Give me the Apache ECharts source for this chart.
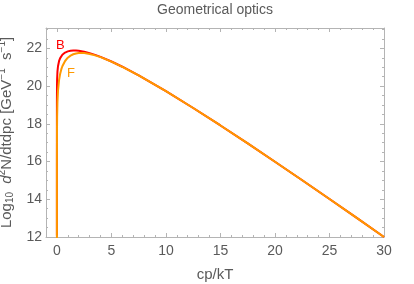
<!DOCTYPE html>
<html><head><meta charset="utf-8">
<script src="https://cdn.jsdelivr.net/npm/echarts@6/dist/echarts.min.js"></script>
<style>html,body{margin:0;padding:0;background:#fff}#c{width:414px;height:284px}</style>
</head><body><div id="c"></div>
<script>
const cpkT = [1e-10, 1e-5, 1e-4, 1e-3, 0.01, 0.02, 0.05, 0.1, 0.2, 0.3, 0.4, 0.5, 0.75, 1, 1.25, 1.5, 1.75, 2, 2.5, 3, 3.5, 4, 5, 6, 7.5, 10, 12.5, 15, 17.5, 20, 22.5, 25, 27.5, 30];
const logB = [12.075, 17.075, 18.075, 19.075, 20.073, 20.372, 20.763, 21.053, 21.332, 21.485, 21.587, 21.661, 21.777, 21.840, 21.873, 21.885, 21.884, 21.872, 21.822, 21.749, 21.656, 21.550, 21.304, 21.027, 20.568, 19.732, 18.840, 17.913, 16.961, 15.991, 15.008, 14.014, 13.011, 12.000];
const logF = [1.774, 11.774, 13.774, 15.774, 17.772, 18.372, 19.161, 19.752, 20.330, 20.658, 20.883, 21.050, 21.331, 21.505, 21.617, 21.688, 21.731, 21.753, 21.751, 21.705, 21.630, 21.534, 21.299, 21.024, 20.568, 19.732, 18.840, 17.913, 16.961, 15.991, 15.008, 14.014, 13.011, 12.000];
const xMajor = [0, 5, 10, 15, 20, 25, 30];
const xMinor = [1, 2, 3, 4, 6, 7, 8, 9, 11, 12, 13, 14, 16, 17, 18, 19, 21, 22, 23, 24, 26, 27, 28, 29];
const yMajor = [12, 14, 16, 18, 20, 22];
const yMinor = [12.5, 13, 13.5, 14.5, 15, 15.5, 16.5, 17, 17.5, 18.5, 19, 19.5, 20.5, 21, 21.5, 22.5, 23];

const X_MIN = -1, X_MAX = 30, Y_MIN = 12, Y_MAX = 23.08;
const frame = '#b4b4b4';
const txt = '#5a5a5a';
const font = 'Liberation Sans';

function xAx(pos, ticks, len, labels, line, extra) {
  return Object.assign({
    type: 'value', position: pos, min: X_MIN, max: X_MAX,
    axisLine: {show: line, onZero: false, lineStyle: {color: frame, width: 1}},
    axisTick: {show: true, inside: true, length: len, customValues: ticks, lineStyle: {color: frame}},
    axisLabel: labels ? {show: true, customValues: labels, color: txt, fontSize: 14, fontFamily: font, margin: 7} : {show: false},
    splitLine: {show: false}
  }, extra || {});
}
function yAx(pos, ticks, len, labels, line, extra) {
  return Object.assign({
    type: 'value', position: pos, min: Y_MIN, max: Y_MAX,
    axisLine: {show: line, onZero: false, lineStyle: {color: frame, width: 1}},
    axisTick: {show: true, inside: true, length: len, customValues: ticks, lineStyle: {color: frame}},
    axisLabel: labels ? {show: true, customValues: labels, color: txt, fontSize: 14, fontFamily: font, margin: 4} : {show: false},
    splitLine: {show: false}
  }, extra || {});
}

const chart = echarts.init(document.getElementById('c'), null, {renderer: 'canvas'});
chart.setOption({
  animation: false,
  backgroundColor: '#fff',
  title: {text: 'Geometrical optics', left: 215, top: 3, padding: 0, textAlign: 'center',
    textStyle: {color: txt, fontSize: 14, fontWeight: 'normal', fontFamily: font}},
  grid: {left: 46, right: 30, top: 28, bottom: 47, containLabel: false, outerBoundsMode: 'none'},
  xAxis: [
    xAx('bottom', xMajor, 4, xMajor, true, {name: 'cp/kT', nameLocation: 'middle', nameGap: 30,
      nameTextStyle: {color: txt, fontSize: 15, fontFamily: font}}),
    xAx('bottom', xMinor, 2, null, false),
    xAx('top', xMajor, 4, null, true),
    xAx('top', xMinor, 2, null, false)
  ],
  yAxis: [
    yAx('left', yMajor, 4, yMajor, true, {
      name: 'Log{sub|10}  {i|d}{sup|2}N/dtdpc [GeV{sup|−1}  s{sup|−1}]', nameLocation: 'middle', nameGap: 25,
      nameTextStyle: {color: txt, fontSize: 15, fontFamily: font, lineHeight: 18,
        rich: {
          i: {fontStyle: 'italic', color: txt, fontSize: 15, fontFamily: font, lineHeight: 18},
          sup: {color: txt, fontSize: 10, fontFamily: font, verticalAlign: 'top', lineHeight: 8},
          sub: {color: txt, fontSize: 10, fontFamily: font, verticalAlign: 'bottom', lineHeight: 11}
        }}}),
    yAx('left', yMinor, 2, null, false),
    yAx('right', yMajor, 4, null, true),
    yAx('right', yMinor, 2, null, false)
  ],
  series: [
    {name: 'B', type: 'line', xAxisIndex: 0, yAxisIndex: 0, showSymbol: false, clip: true,
      data: cpkT.map((x, i) => [x, logB[i]]), lineStyle: {color: '#ff0000', width: 2}, itemStyle: {color: '#ff0000'}},
    {name: 'F', type: 'line', xAxisIndex: 0, yAxisIndex: 0, showSymbol: false, clip: true,
      data: cpkT.map((x, i) => [x, logF[i]]), lineStyle: {color: '#ff9900', width: 2}, itemStyle: {color: '#ff9900'}}
  ],
  graphic: [
    {type: 'text', left: 56, top: 39, style: {text: 'B', fill: '#ff0000', fontSize: 13, fontFamily: font}},
    {type: 'text', left: 67, top: 67, style: {text: 'F', fill: '#ff9900', fontSize: 13, fontFamily: font}}
  ]
});
</script></body></html>
